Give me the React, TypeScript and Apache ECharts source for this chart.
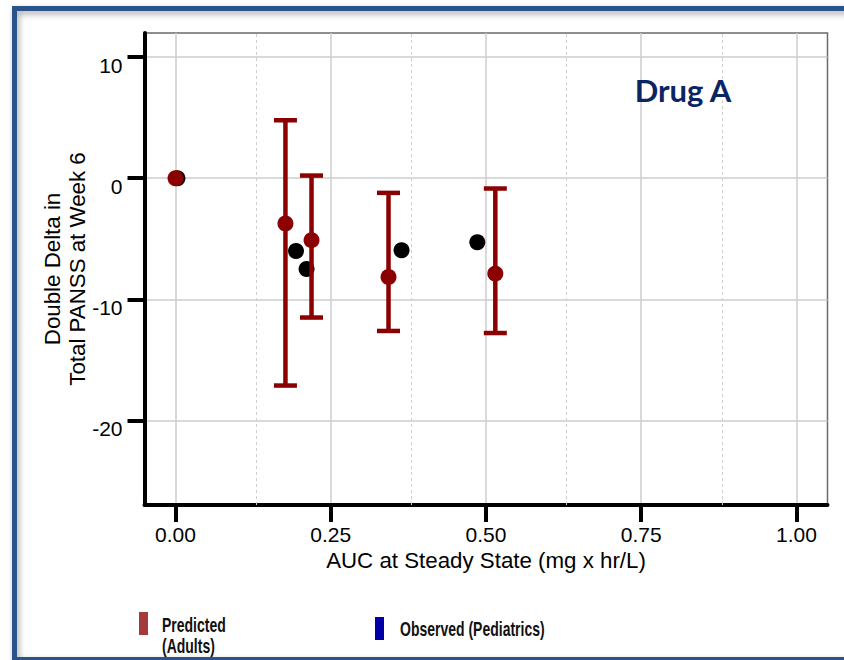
import React, { useEffect, useRef } from "react";
import * as echarts from "echarts";

// ---- data ----
const xTicks = [0, 0.25, 0.5, 0.75, 1.0];
const xMinorTicks = [0.125, 0.375, 0.625, 0.875];
const yTicks = [-20, -10, 0, 10];

const predictedAUC = [0, 0.177, 0.219, 0.343, 0.515];
const predictedMean = [0, -3.74, -5.12, -8.16, -7.88];
const predictedLow = [null, -17.13, -11.51, -12.62, -12.79];
const predictedHigh = [null, 4.79, 0.22, -1.21, -0.85];

const observedAUC = [0.003, 0.194, 0.211, 0.364, 0.486];
const observedChange = [0, -6.01, -7.5, -5.95, -5.29];

const panelTitle = "Drug A";
const xAxisTitle = "AUC at Steady State (mg x hr/L)";
const yAxisTitle = "Double Delta in\nTotal PANSS at Week 6";
const legendPredicted = ["Predicted", "(Adults)"];
const legendObserved = "Observed (Pediatrics)";

const DARK_RED = "#8B0000";
const FONT = "'Liberation Sans', Arial, sans-serif";

export default function App() {
  const ref = useRef<HTMLDivElement>(null);

  useEffect(() => {
    if (!ref.current) return;
    const chart = echarts.init(ref.current, null, { renderer: "svg" });

    const predictedPoints = predictedAUC.map((x, i) => [x, predictedMean[i]]);
    const observedPoints = observedAUC.map((x, i) => [x, observedChange[i]]);
    const errorBars = predictedAUC
      .map((x, i) =>
        predictedLow[i] == null ? null : [x, predictedLow[i], predictedHigh[i]]
      )
      .filter((d) => d !== null);

    const legendTextStyle = {
      fontFamily: FONT,
      fontWeight: "bold",
      fontSize: 20,
      fill: "#111",
      textAlign: "left",
      textVerticalAlign: "middle",
    };

    const option: any = {
      animation: false,
      backgroundColor: "#ffffff",
      grid: {
        left: 144.5,
        top: 33,
        width: 683,
        height: 472,
        show: true,
        borderColor: "#6a6a6a",
        borderWidth: 1.5,
        backgroundColor: "transparent",
      },
      xAxis: {
        type: "value",
        min: -0.05,
        max: 1.05,
        name: xAxisTitle,
        nameLocation: "middle",
        nameGap: 44,
        nameMoveOverlap: false,
        nameTextStyle: { fontFamily: FONT, fontSize: 22.3, color: "#000" },
        axisLine: { show: true, onZero: false, lineStyle: { color: "#000", width: 4 } },
        axisTick: {
          show: true,
          length: 17,
          customValues: xTicks,
          lineStyle: { color: "#000", width: 4 },
        },
        axisLabel: {
          customValues: xTicks,
          fontFamily: FONT,
          fontSize: 21,
          lineHeight: 21,
          color: "#000",
          margin: 19,
          formatter: (v: number) => v.toFixed(2),
        },
        splitLine: { show: true, lineStyle: { color: "#cccccc", width: 1.5 } },
      },
      yAxis: {
        type: "value",
        min: -27,
        max: 12,
        name: yAxisTitle,
        nameLocation: "middle",
        nameRotate: 90,
        nameGap: 55,
        nameMoveOverlap: false,
        nameTextStyle: {
          fontFamily: FONT,
          fontSize: 22.3,
          lineHeight: 25,
          color: "#000",
          align: "center",
        },
        axisLine: { show: true, onZero: false, lineStyle: { color: "#000", width: 4 } },
        axisTick: {
          show: true,
          length: 17,
          customValues: yTicks,
          lineStyle: { color: "#000", width: 4 },
        },
        axisLabel: {
          customValues: yTicks,
          fontFamily: FONT,
          fontSize: 21,
          lineHeight: 16,
          color: "#000",
          margin: 22,
          verticalAlign: "top",
        },
        splitLine: { show: true, lineStyle: { color: "#cccccc", width: 1.5 } },
      },
      series: [
        {
          type: "line",
          data: [],
          silent: true,
          z: 1,
          markLine: {
            silent: true,
            symbol: "none",
            label: { show: false },
            lineStyle: { color: "#cfcfcf", width: 1, type: [3, 3] },
            data: xMinorTicks.map((v) => ({ xAxis: v })),
          },
        },
        {
          type: "scatter",
          name: "Observed",
          data: observedPoints,
          symbol: "circle",
          symbolSize: 16,
          itemStyle: { color: "#000000", opacity: 1 },
          z: 3,
        },
        {
          type: "custom",
          name: "Predicted CI",
          data: errorBars,
          encode: { x: 0, y: [1, 2] },
          z: 4,
          renderItem: (_params: any, api: any) => {
            const x = api.value(0);
            const lo = api.value(1);
            const hi = api.value(2);
            const pTop = api.coord([x, hi]);
            const pBot = api.coord([x, lo]);
            const half = 11.5;
            const style = { stroke: DARK_RED, lineWidth: 4.5, fill: null };
            return {
              type: "group",
              children: [
                { type: "line", shape: { x1: pTop[0], y1: pTop[1], x2: pBot[0], y2: pBot[1] }, style },
                { type: "line", shape: { x1: pTop[0] - half, y1: pTop[1], x2: pTop[0] + half, y2: pTop[1] }, style },
                { type: "line", shape: { x1: pBot[0] - half, y1: pBot[1], x2: pBot[0] + half, y2: pBot[1] }, style },
              ],
            };
          },
        },
        {
          type: "scatter",
          name: "Predicted",
          data: predictedPoints,
          symbol: "circle",
          symbolSize: 16,
          itemStyle: { color: DARK_RED, opacity: 1 },
          z: 5,
        },
      ],
      graphic: [
        {
          type: "text",
          x: 683,
          y: 90,
          z: 10,
          style: {
            text: panelTitle,
            fontFamily: "Lato, 'Open Sans', sans-serif",
            fontWeight: "bold",
            fontSize: 31,
            fill: "#0B2563",
            textAlign: "center",
            textVerticalAlign: "middle",
          },
        },
        {
          type: "rect",
          shape: { x: 139, y: 612, width: 9, height: 23 },
          style: { fill: "#A33B3B" },
          z: 10,
        },
        {
          type: "text",
          x: 162,
          y: 625,
          scaleX: 0.7,
          z: 10,
          style: { ...legendTextStyle, text: legendPredicted[0] },
        },
        {
          type: "text",
          x: 162,
          y: 646,
          scaleX: 0.7,
          z: 10,
          style: { ...legendTextStyle, text: legendPredicted[1] },
        },
        {
          type: "rect",
          shape: { x: 375, y: 617, width: 9, height: 23 },
          style: { fill: "#0000A6" },
          z: 10,
        },
        {
          type: "text",
          x: 400,
          y: 629,
          scaleX: 0.7,
          z: 10,
          style: { ...legendTextStyle, text: legendObserved },
        },
        {
          type: "rect",
          shape: { x: 14.5, y: 8.5, width: 900, height: 651 },
          z: 20,
          style: {
            fill: null,
            stroke: "#2A5289",
            lineWidth: 5,
            shadowBlur: 6,
            shadowOffsetX: 2,
            shadowOffsetY: 3,
            shadowColor: "rgba(0,0,0,0.35)",
          },
        },
      ],
    };

    chart.setOption(option);
    return () => chart.dispose();
  }, []);

  return (
    <div
      ref={ref}
      style={{ position: "absolute", left: 0, top: 0, width: 844, height: 660, background: "#fff" }}
    />
  );
}
